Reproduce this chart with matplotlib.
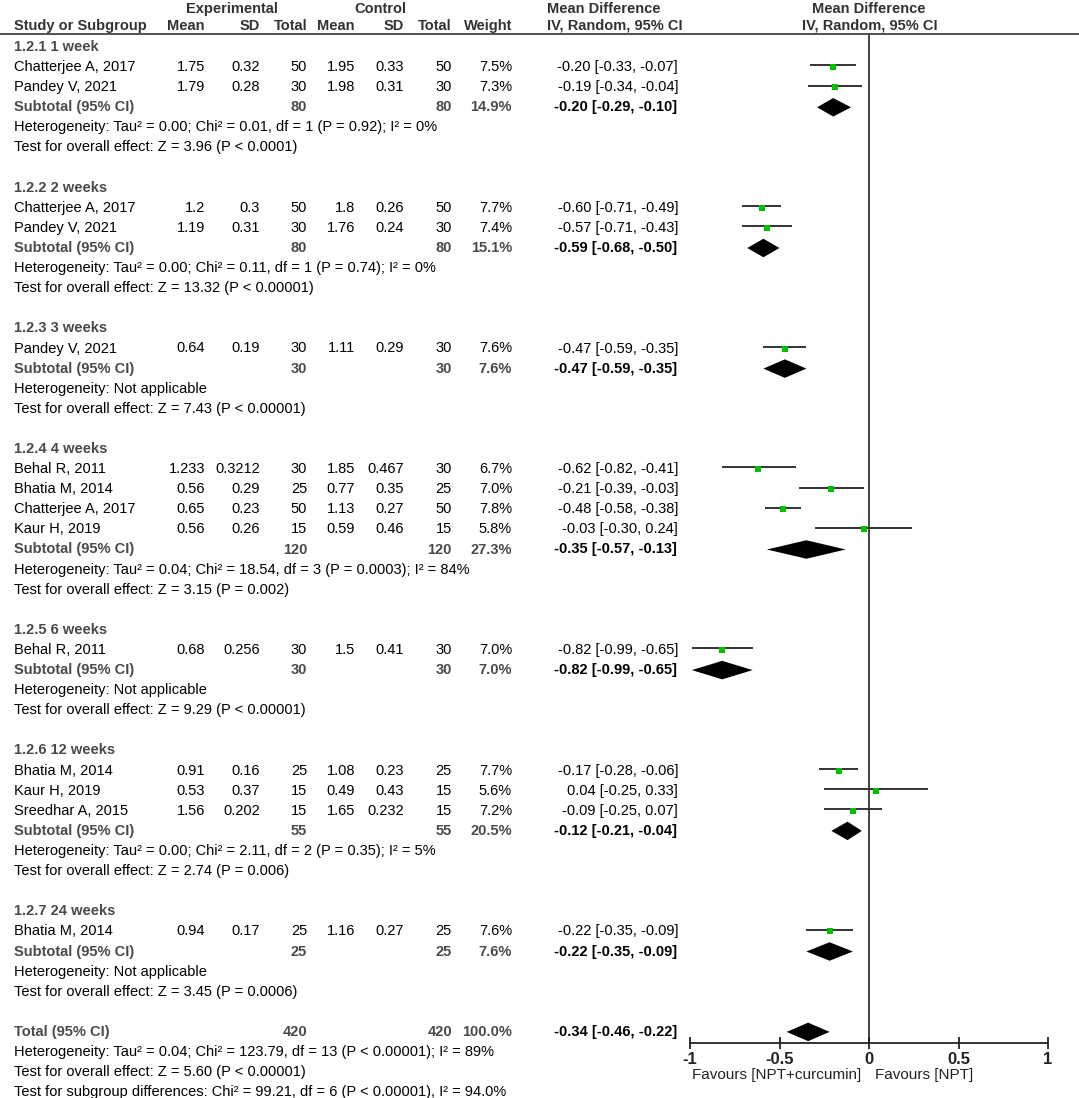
import matplotlib
matplotlib.use("Agg")
import matplotlib.pyplot as plt

plt.rcParams['font.family'] = ['Liberation Sans', 'DejaVu Sans']

# ---------------- data ----------------
group_titles = ["1.2.1 1 week", "1.2.2 2 weeks", "1.2.3 3 weeks", "1.2.4 4 weeks",
                "1.2.5 6 weeks", "1.2.6 12 weeks", "1.2.7 24 weeks"]
study_names = [
    ["Chatterjee A, 2017", "Pandey V, 2021"],
    ["Chatterjee A, 2017", "Pandey V, 2021"],
    ["Pandey V, 2021"],
    ["Behal R, 2011", "Bhatia M, 2014", "Chatterjee A, 2017", "Kaur H, 2019"],
    ["Behal R, 2011"],
    ["Bhatia M, 2014", "Kaur H, 2019", "Sreedhar A, 2015"],
    ["Bhatia M, 2014"],
]
exp_mean = [["1.75", "1.79"], ["1.2", "1.19"], ["0.64"], ["1.233", "0.56", "0.65", "0.56"],
            ["0.68"], ["0.91", "0.53", "1.56"], ["0.94"]]
exp_sd = [["0.32", "0.28"], ["0.3", "0.31"], ["0.19"], ["0.3212", "0.29", "0.23", "0.26"],
          ["0.256"], ["0.16", "0.37", "0.202"], ["0.17"]]
exp_n = [[50, 30], [50, 30], [30], [30, 25, 50, 15], [30], [25, 15, 15], [25]]
ctl_mean = [["1.95", "1.98"], ["1.8", "1.76"], ["1.11"], ["1.85", "0.77", "1.13", "0.59"],
            ["1.5"], ["1.08", "0.49", "1.65"], ["1.16"]]
ctl_sd = [["0.33", "0.31"], ["0.26", "0.24"], ["0.29"], ["0.467", "0.35", "0.27", "0.46"],
          ["0.41"], ["0.23", "0.43", "0.232"], ["0.27"]]
ctl_n = [[50, 30], [50, 30], [30], [30, 25, 50, 15], [30], [25, 15, 15], [25]]
weights = [[7.5, 7.3], [7.7, 7.4], [7.6], [6.7, 7.0, 7.8, 5.8], [7.0], [7.7, 5.6, 7.2], [7.6]]
md = [[-0.20, -0.19], [-0.60, -0.57], [-0.47], [-0.62, -0.21, -0.48, -0.03], [-0.82],
      [-0.17, 0.04, -0.09], [-0.22]]
ci_lo = [[-0.33, -0.34], [-0.71, -0.71], [-0.59], [-0.82, -0.39, -0.58, -0.30], [-0.99],
         [-0.28, -0.25, -0.25], [-0.35]]
ci_hi = [[-0.07, -0.04], [-0.49, -0.43], [-0.35], [-0.41, -0.03, -0.38, 0.24], [-0.65],
         [-0.06, 0.33, 0.07], [-0.09]]

sub_exp_n = [80, 80, 30, 120, 30, 55, 25]
sub_ctl_n = [80, 80, 30, 120, 30, 55, 25]
sub_weight = [14.9, 15.1, 7.6, 27.3, 7.0, 20.5, 7.6]
sub_md = [-0.20, -0.59, -0.47, -0.35, -0.82, -0.12, -0.22]
sub_lo = [-0.29, -0.68, -0.59, -0.57, -0.99, -0.21, -0.35]
sub_hi = [-0.10, -0.50, -0.35, -0.13, -0.65, -0.04, -0.09]
sub_het = [
    "Heterogeneity: Tau² = 0.00; Chi² = 0.01, df = 1 (P = 0.92); I² = 0%",
    "Heterogeneity: Tau² = 0.00; Chi² = 0.11, df = 1 (P = 0.74); I² = 0%",
    "Heterogeneity: Not applicable",
    "Heterogeneity: Tau² = 0.04; Chi² = 18.54, df = 3 (P = 0.0003); I² = 84%",
    "Heterogeneity: Not applicable",
    "Heterogeneity: Tau² = 0.00; Chi² = 2.11, df = 2 (P = 0.35); I² = 5%",
    "Heterogeneity: Not applicable",
]
sub_test = [
    "Test for overall effect: Z = 3.96 (P < 0.0001)",
    "Test for overall effect: Z = 13.32 (P < 0.00001)",
    "Test for overall effect: Z = 7.43 (P < 0.00001)",
    "Test for overall effect: Z = 3.15 (P = 0.002)",
    "Test for overall effect: Z = 9.29 (P < 0.00001)",
    "Test for overall effect: Z = 2.74 (P = 0.006)",
    "Test for overall effect: Z = 3.45 (P = 0.0006)",
]
total_exp_n, total_ctl_n, total_weight = 420, 420, 100.0
total_md, total_lo, total_hi = -0.34, -0.46, -0.22
total_notes = [
    "Heterogeneity: Tau² = 0.04; Chi² = 123.79, df = 13 (P < 0.00001); I² = 89%",
    "Test for overall effect: Z = 5.60 (P < 0.00001)",
    "Test for subgroup differences: Chi² = 99.21, df = 6 (P < 0.00001), I² = 94.0%",
]
x_ticks = [-1, -0.5, 0, 0.5, 1]
x_tick_labels = ["-1", "-0.5", "0", "0.5", "1"]
favours_left = "Favours [NPT+curcumin]"
favours_right = "Favours [NPT]"

# ---------------- layout ----------------
W, H = 1079, 1098
fig = plt.figure(figsize=(W / 100, H / 100), dpi=100)
tx = fig.add_axes([0, 0, 1, 1])
tx.set_xlim(0, W)
tx.set_ylim(H, 0)
tx.axis('off')

ROW0, ROWH = 47.0, 20.1
def ry(r):
    return ROW0 + ROWH * r

FS = 10.5
GRAY = '#4a4a4a'
HDR = '#333333'

# forest axes (x: mean difference, y: row index)
X0, X1 = 690, 1048
YTOP, YBOT = 33, 1043
fx = fig.add_axes([X0 / W, 1 - YBOT / H, (X1 - X0) / W, (YBOT - YTOP) / H])
fx.set_xlim(-1, 1)
fx.set_ylim((YBOT - ROW0) / ROWH, (YTOP - ROW0) / ROWH)
fx.patch.set_alpha(0)
for s in ['top', 'left', 'right']:
    fx.spines[s].set_visible(False)
fx.spines['bottom'].set_linewidth(1.3)
fx.spines['bottom'].set_color('#222222')
fx.set_yticks([])
fx.set_xticks(x_ticks)
fx.set_xticklabels(x_tick_labels, fontsize=12, fontweight='bold', color='#222222')
fx.tick_params(axis='x', direction='inout', length=9, width=1.3, color='#222222', pad=2)
fx.axvline(0, color='#444444', lw=1.4, zorder=1)

# header
tx.text(232, 9, "Experimental", ha='center', va='center', fontsize=FS, fontweight='bold', color=HDR)
tx.text(380, 9, "Control", ha='center', va='center', fontsize=FS, fontweight='bold', color=HDR)
tx.text(547, 9, "Mean Difference", ha='left', va='center', fontsize=FS, fontweight='bold', color=HDR)
tx.text(869, 9, "Mean Difference", ha='center', va='center', fontsize=FS, fontweight='bold', color=HDR)
hy = 26
tx.text(14, hy, "Study or Subgroup", ha='left', va='center', fontsize=FS, fontweight='bold', color=HDR)
for xr, lab in [(205, "Mean"), (260, "SD"), (307, "Total"), (355, "Mean"),
                (404, "SD"), (452, "Total"), (512, "Weight")]:
    tx.text(xr, hy, lab, ha='right', va='center', fontsize=FS, fontweight='bold', color=HDR)
tx.text(547, hy, "IV, Random, 95% CI", ha='left', va='center', fontsize=FS, fontweight='bold', color=HDR)
tx.text(870, hy, "IV, Random, 95% CI", ha='center', va='center', fontsize=FS, fontweight='bold', color=HDR)
tx.plot([0, W], [33.5, 33.5], color='#333333', lw=1.2)

COLS = [205, 260, 307, 355, 404, 452, 512]
MDX = 678
DH = 0.46  # diamond half-height in rows

def ci_str(m, lo, hi):
    return f"{m:.2f} [{lo:.2f}, {hi:.2f}]"

r = 0
for g in range(len(group_titles)):
    tx.text(14, ry(r), group_titles[g], ha='left', va='center', fontsize=FS, fontweight='bold', color=GRAY)
    r += 1
    for i, name in enumerate(study_names[g]):
        y = ry(r)
        tx.text(14, y, name, ha='left', va='center', fontsize=FS, color='black')
        vals = [exp_mean[g][i], exp_sd[g][i], str(exp_n[g][i]), ctl_mean[g][i], ctl_sd[g][i],
                str(ctl_n[g][i]), f"{weights[g][i]:.1f}%"]
        for xr, v in zip(COLS, vals):
            tx.text(xr, y, v, ha='right', va='center', fontsize=FS, color='black')
        tx.text(MDX, y, ci_str(md[g][i], ci_lo[g][i], ci_hi[g][i]), ha='right', va='center',
                fontsize=FS, color='black')
        fx.plot([ci_lo[g][i], ci_hi[g][i]], [r - 0.08, r - 0.08], color='#333333', lw=1.4,
                solid_capstyle='butt', zorder=2, clip_on=False)
        fx.plot([md[g][i]], [r], marker='s', color='#00c000', markersize=2.0 + weights[g][i] * 0.33,
                markeredgewidth=0, zorder=3, clip_on=False)
        r += 1
    y = ry(r)
    tx.text(14, y, "Subtotal (95% CI)", ha='left', va='center', fontsize=FS, fontweight='bold', color=GRAY)
    for xr, v in zip([307, 452, 512], [str(sub_exp_n[g]), str(sub_ctl_n[g]), f"{sub_weight[g]:.1f}%"]):
        tx.text(xr, y, v, ha='right', va='center', fontsize=FS, fontweight='bold', color=GRAY)
    tx.text(MDX - 1, y, ci_str(sub_md[g], sub_lo[g], sub_hi[g]), ha='right', va='center',
            fontsize=FS, fontweight='bold', color='black')
    fx.fill([sub_lo[g], sub_md[g], sub_hi[g], sub_md[g]], [r, r - DH, r, r + DH],
            color='black', lw=0, zorder=3, clip_on=False)
    r += 1
    tx.text(14, ry(r), sub_het[g], ha='left', va='center', fontsize=FS, color='black')
    r += 1
    tx.text(14, ry(r), sub_test[g], ha='left', va='center', fontsize=FS, color='black')
    r += 2

y = ry(r)
tx.text(14, y, "Total (95% CI)", ha='left', va='center', fontsize=FS, fontweight='bold', color=GRAY)
for xr, v in zip([307, 452, 512], [str(total_exp_n), str(total_ctl_n), f"{total_weight:.1f}%"]):
    tx.text(xr, y, v, ha='right', va='center', fontsize=FS, fontweight='bold', color=GRAY)
tx.text(MDX - 1, y, ci_str(total_md, total_lo, total_hi), ha='right', va='center',
        fontsize=FS, fontweight='bold', color='black')
fx.fill([total_lo, total_md, total_hi, total_md], [r, r - DH, r, r + DH],
        color='black', lw=0, zorder=3, clip_on=False)
r += 1
for note in total_notes:
    tx.text(14, ry(r), note, ha='left', va='center', fontsize=FS, color='black')
    r += 1

tx.text(861, 1075, favours_left, ha='right', va='center', fontsize=11, color='#222222')
tx.text(875, 1075, favours_right, ha='left', va='center', fontsize=11, color='#222222')

fig.savefig("out.png", dpi=100)
